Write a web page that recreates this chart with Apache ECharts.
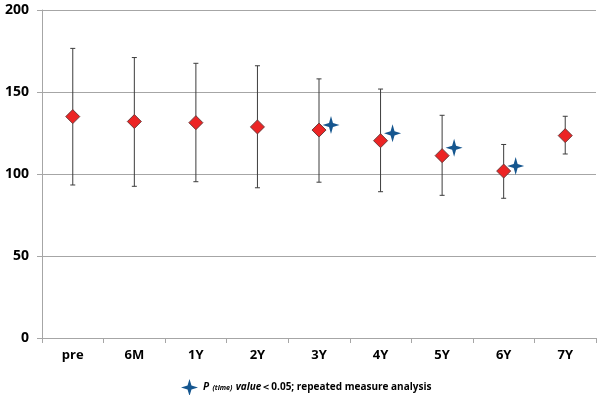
<!DOCTYPE html>
<html><head><meta charset="utf-8">
<script src="https://cdn.jsdelivr.net/npm/echarts@6/dist/echarts.min.js"></script>
<style>html,body{margin:0;padding:0;background:#fff}#c{width:600px;height:395px}</style>
</head><body><div id="c"></div>
<script>
const categories = ['pre','6M','1Y','2Y','3Y','4Y','5Y','6Y','7Y'];
const means = [135, 132, 131.3, 128.7, 126.8, 120.3, 111.2, 101.8, 123.4];
const upper = [176.6, 171, 167.5, 166, 158, 151.8, 135.8, 118, 135.2];
const lower = [93.3, 92.5, 95.3, 91.6, 95, 89.2, 87, 85.2, 112.2];
const sigValues = [null, null, null, null, 129.9, 124.8, 116, 104.9, null];
const yTicks = [0, 50, 100, 150, 200];

const starPath = 'path://M0,-10 L2.3,-2.3 L10,0 L2.3,2.3 L0,10 L-2.3,2.3 L-10,0 L-2.3,-2.3 Z';
const errData = categories.map((c, i) => [i, lower[i], upper[i]]);

const chart = echarts.init(document.getElementById('c'), null, {renderer: 'canvas'});
chart.setOption({
  animation: false,
  backgroundColor: '#fff',
  grid: {left: 42, right: 4, top: 10, bottom: 57, containLabel: false},
  xAxis: {
    type: 'category', data: categories, boundaryGap: true,
    axisLine: {lineStyle: {color: '#a6a6a6', width: 1}},
    axisTick: {show: true, length: 5, lineStyle: {color: '#a6a6a6'}},
    axisLabel: {color: '#000', fontWeight: 'bold', fontSize: 13, fontFamily: 'Open Sans', margin: 11}
  },
  yAxis: {
    type: 'value', min: yTicks[0], max: yTicks[yTicks.length - 1], interval: 50,
    axisLine: {show: true, lineStyle: {color: '#a6a6a6'}},
    axisTick: {show: true, length: 5, lineStyle: {color: '#a6a6a6'}},
    splitLine: {lineStyle: {color: '#a6a6a6', width: 1}},
    axisLabel: {color: '#000', fontWeight: 'bold', fontSize: 14, fontFamily: 'Open Sans', margin: 13}
  },
  legend: {
    show: true, data: ['sig'], left: 176, top: 374, itemWidth: 17, itemHeight: 18, itemGap: 8,
    itemStyle: {opacity: 1},
    formatter: () => '{p|P} {t|(time)} {v|value}{n|＜0.05; repeated measure analysis}',
    textStyle: {
      rich: {
        p: {fontFamily: 'Open Sans', fontStyle: 'italic', fontWeight: 'bold', fontSize: 10, color: '#000'},
        t: {fontFamily: 'Open Sans', fontStyle: 'italic', fontWeight: 'bold', fontSize: 7, color: '#000'},
        v: {fontFamily: 'Open Sans', fontStyle: 'italic', fontWeight: 'bold', fontSize: 10, color: '#000'},
        n: {fontFamily: 'Open Sans', fontWeight: 'bold', fontSize: 10, color: '#000'}
      }
    }
  },
  series: [
    {
      type: 'custom', name: 'err', data: errData, z: 2,
      renderItem: function (params, api) {
        const x = api.coord([api.value(0), 0])[0];
        const lo = api.coord([api.value(0), api.value(1)])[1];
        const hi = api.coord([api.value(0), api.value(2)])[1];
        const st = {stroke: '#3c3c3c', lineWidth: 1};
        const cap = 2.5;
        return {type: 'group', children: [
          {type: 'line', shape: {x1: x, y1: hi, x2: x, y2: lo}, style: st},
          {type: 'line', shape: {x1: x - cap, y1: hi, x2: x + cap, y2: hi}, style: st},
          {type: 'line', shape: {x1: x - cap, y1: lo, x2: x + cap, y2: lo}, style: st}
        ]};
      }
    },
    {
      type: 'scatter', name: 'mean', data: means, symbol: 'diamond', symbolSize: 14, z: 3,
      itemStyle: {color: '#ec2424', borderColor: '#6e3a3a', borderWidth: 1, opacity: 1}
    },
    {
      type: 'scatter', name: 'sig', data: sigValues, symbol: starPath, symbolSize: [17, 18],
      symbolOffset: [12, 0], z: 4,
      itemStyle: {color: '#15568f', opacity: 1}
    }
  ]
});
</script></body></html>
